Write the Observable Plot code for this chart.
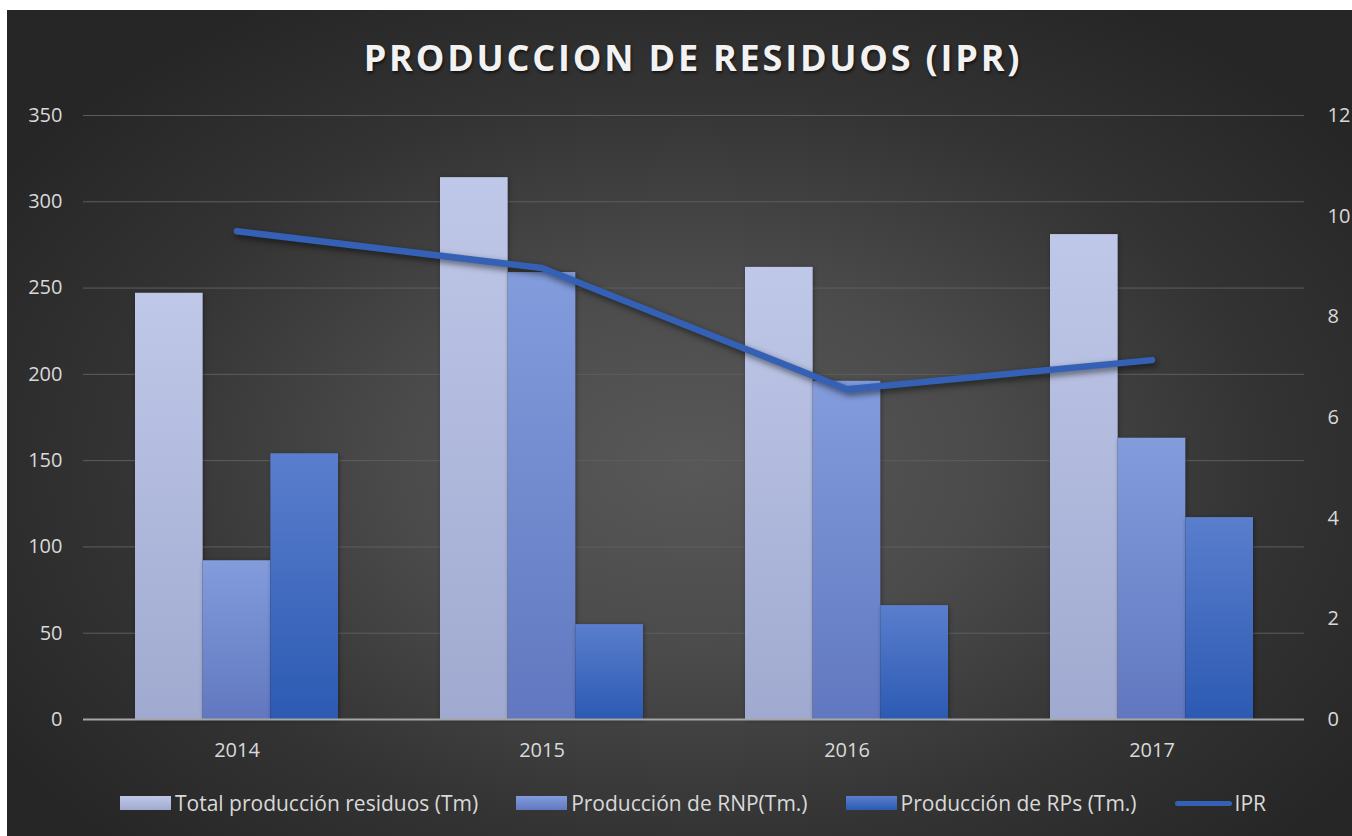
<!DOCTYPE html>
<html>
<head>
<meta charset="utf-8">
<script src="https://cdn.jsdelivr.net/npm/d3@7"></script>
<script src="https://cdn.jsdelivr.net/npm/@observablehq/plot@0.6"></script>
<style>
  html, body { margin: 0; padding: 0; background: #ffffff; overflow: hidden; width: 1352px; height: 836px; }
  #chart {
    position: absolute; left: 7px; top: 10px; width: 1372px; height: 826px;
    background: radial-gradient(ellipse 60% 65% at 50% 55%, #585858 0%, #4b4b4b 35%, #333333 70%, #262626 100%);
    font-family: "Open Sans", sans-serif;
    overflow: hidden;
  }
  #title {
    position: absolute; left: 0; width: 100%; top: 23px; text-align: center;
    color: #f2f2f2; font-weight: 700; font-size: 36px; letter-spacing: 2.8px;
    text-shadow: 1px 2px 3px rgba(0,0,0,0.6);
  }
  #plot { position: absolute; left: 0; top: 60px; }
  #legend {
    position: absolute; left: 0; width: 100%; top: 779px; display: flex; justify-content: center;
    align-items: center; color: #d9d9d9; font-size: 21px;
  }
  .item { display: flex; align-items: center; margin: 0 19px; }
  .sw { width: 51px; height: 14px; margin-right: 4px; }
  .ln { width: 57px; height: 5px; border-radius: 3px; margin-right: 3px; background: #3461b5; }
</style>
</head>
<body>
<div id="chart">
  <div id="title">PRODUCCION DE RESIDUOS (IPR)</div>
  <div id="plot"></div>
  <div id="legend"></div>
</div>
<script>
// ---- data ----
const years = ["2014", "2015", "2016", "2017"];
const totalProd = [247, 314, 262, 281];
const rnpProd = [92, 259, 196, 163];
const rpsProd = [154, 55, 66, 117];
const iprValues = [9.7, 8.97, 6.56, 7.14];
const leftTicks = [0, 50, 100, 150, 200, 250, 300, 350];
const rightTicks = [0, 2, 4, 6, 8, 10, 12];
const seriesNames = ["Total producción residuos (Tm)", "Producción de RNP(Tm.)", "Producción de RPs (Tm.)"];
const lineName = "IPR";

// ---- style ----
const gradIds = ["gTotal", "gRnp", "gRps"];
const gradStops = [["#bfc8e8", "#a0aad0"], ["#829cdc", "#6178c0"], ["#5a7ecd", "#2c5ab3"]];
const lineColor = "#3461b5";
const leftMax = 350, rightMax = 12;
const toLeft = v => v * leftMax / rightMax;

const W = 1372, H = 705;
const mL = 76, mR = 75, mT = 45, mB = 56;
const seriesData = [totalProd, rnpProd, rpsProd];

const band = (1 - 0.335) * (W - mL - mR) / years.length;
const third = band / 3;

const barMarks = seriesData.map((vals, k) =>
  Plot.barY(years.map((y, i) => ({year: y, value: vals[i]})), {
    x: "year", y: "value", fill: `url(#${gradIds[k]})`,
    insetLeft: k * third, insetRight: (2 - k) * third
  })
);

const plot = Plot.plot({
  width: W, height: H,
  marginLeft: mL, marginRight: mR, marginTop: mT, marginBottom: mB,
  style: {background: "transparent", color: "#d9d9d9", fontFamily: "Open Sans, sans-serif", fontSize: "20px"},
  x: {domain: years, paddingInner: 0.335, paddingOuter: 0.1675, axis: null},
  y: {domain: [0, leftMax], axis: null},
  marks: [
    Plot.ruleY(leftTicks.slice(1), {stroke: "#5e5e5e", strokeWidth: 1}),
    ...barMarks,
    Plot.ruleY([0], {stroke: "#a6a6a6", strokeWidth: 2}),
    Plot.axisX({tickSize: 0, tickPadding: 23, label: null, fill: "#d9d9d9"}),
    Plot.axisY(leftTicks, {anchor: "left", tickSize: 0, tickPadding: 21, label: null, fill: "#d9d9d9"}),
    Plot.axisY(rightTicks.map(toLeft), {anchor: "right", tickSize: 0, tickPadding: 23, label: null,
      tickFormat: d => String(Math.round(d * rightMax / leftMax)), fill: "#d9d9d9"}),
    Plot.line(years.map((y, i) => ({year: y, v: toLeft(iprValues[i])})), {
      x: "year", y: "v", stroke: lineColor, strokeWidth: 6.5, strokeLinecap: "round", strokeLinejoin: "round"
    })
  ]
});

// gradient defs
const ns = "http://www.w3.org/2000/svg";
const defs = document.createElementNS(ns, "defs");
gradIds.forEach((id, k) => {
  const g = document.createElementNS(ns, "linearGradient");
  g.setAttribute("id", id);
  g.setAttribute("x1", "0"); g.setAttribute("y1", "0"); g.setAttribute("x2", "0"); g.setAttribute("y2", "1");
  gradStops[k].forEach((c, j) => {
    const s = document.createElementNS(ns, "stop");
    s.setAttribute("offset", j === 0 ? "0" : "1");
    s.setAttribute("stop-color", c);
    g.appendChild(s);
  });
  defs.appendChild(g);
});
plot.insertBefore(defs, plot.firstChild);
plot.querySelectorAll('g[aria-label="line"]').forEach(g => g.style.filter = "drop-shadow(2px 3px 3px rgba(0,0,0,0.55))");
plot.querySelectorAll('g[aria-label="bar"]').forEach(g => g.style.filter = "drop-shadow(1px 1px 2px rgba(0,0,0,0.35))");
document.getElementById("plot").appendChild(plot);

// legend
const legend = document.getElementById("legend");
seriesNames.forEach((name, k) => {
  const it = document.createElement("div"); it.className = "item";
  const sw = document.createElement("div"); sw.className = "sw";
  sw.style.background = `linear-gradient(${gradStops[k][0]}, ${gradStops[k][1]})`;
  const tx = document.createElement("span"); tx.textContent = name;
  it.appendChild(sw); it.appendChild(tx); legend.appendChild(it);
});
{
  const it = document.createElement("div"); it.className = "item";
  const ln = document.createElement("div"); ln.className = "ln";
  const tx = document.createElement("span"); tx.textContent = lineName;
  it.appendChild(ln); it.appendChild(tx); legend.appendChild(it);
}
</script>
</body>
</html>
